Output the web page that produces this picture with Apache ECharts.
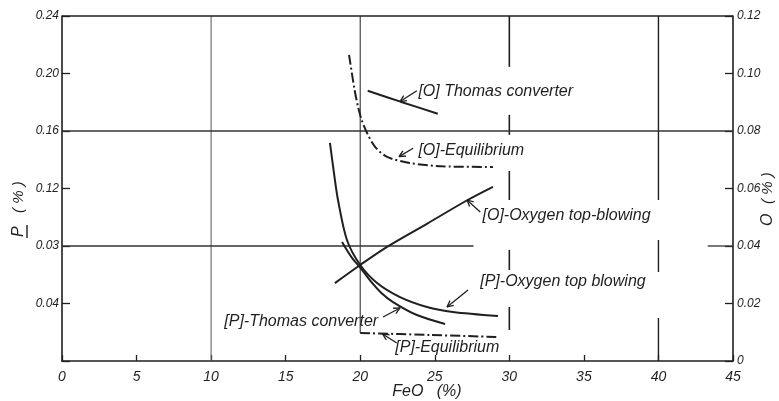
<!DOCTYPE html>
<html>
<head>
<meta charset="utf-8">
<script src="https://cdn.jsdelivr.net/npm/echarts@6/dist/echarts.min.js"></script>
<style>
  html, body { margin: 0; padding: 0; background: #fff; }
  #c { width: 779px; height: 401px; }
</style>
</head>
<body>
<div id="c"></div>
<script>
// Tick labels (left axis P %, right axis O %, bottom axis FeO %)
const feoLabels = ['0', '5', '10', '15', '20', '25', '30', '35', '40', '45'];
const pTickLabels = ['', '0.04', '0.03', '0.12', '0.16', '0.20', '0.24'];
const oTickLabels = ['0', '0.02', '0.04', '0.06', '0.08', '0.10', '0.12'];

// Oxygen content [O] (%) against FeO (%) — right axis
const oThomas = [[20.5, 0.0940], [22.7, 0.0902], [25.2, 0.0860]];
const oEquilibrium = [[19.25, 0.1065], [19.6, 0.0950], [19.85, 0.0885], [20.1, 0.0838], [20.46, 0.0793],
                      [21.0, 0.0745], [21.8, 0.0710], [23.3, 0.0689], [25.5, 0.0677], [28.9, 0.0675]];
const oTopBlowing = [[18.3, 0.0271], [20.0, 0.0334], [21.8, 0.0397], [24.5, 0.0478], [27.2, 0.0560], [28.9, 0.0606]];

// Phosphorus content [P] (%) against FeO (%) — left axis
const pTopBlowing = [[17.97, 0.1517], [18.25, 0.1300], [18.51, 0.1120], [19.11, 0.0842], [20.0, 0.0668],
                     [21.13, 0.0543], [22.67, 0.0445], [24.48, 0.0376], [26.22, 0.0341], [29.24, 0.0313]];
const pThomas = [[18.78, 0.0828], [19.45, 0.0717], [20.0, 0.0650], [20.7, 0.0555], [21.4, 0.0475],
                 [22.2, 0.0410], [23.8, 0.0320], [25.69, 0.0258]];
const pEquilibrium = [[20.0, 0.0195], [24.7, 0.0181], [29.2, 0.0167]];

const ink = '#1f1f1f';
const font = 'Liberation Sans';
const dashDot = [10, 3, 2, 3];

const chart = echarts.init(document.getElementById('c'), null, { renderer: 'canvas' });

function curve(name, data, axis, dashed) {
  return {
    name, type: 'line', data, yAxisIndex: axis,
    smooth: 0.3, showSymbol: false, symbol: 'none',
    lineStyle: { color: ink, width: 2, type: dashed ? dashDot : 'solid' },
    z: 5
  };
}

const tickLabelStyle = { color: ink, fontStyle: 'italic', fontFamily: font, fontSize: 12 };

chart.setOption({
  animation: false,
  backgroundColor: '#fff',
  grid: { left: 62, right: 46, top: 16, bottom: 40 },
  xAxis: {
    type: 'value', min: 0, max: 45, interval: 5,
    axisLine: { show: true, lineStyle: { color: ink, width: 1.6 } },
    axisTick: { inside: true, length: 6, lineStyle: { color: ink, width: 1.3 } },
    axisLabel: Object.assign({}, tickLabelStyle, {
      fontSize: 14, margin: 9,
      formatter: v => feoLabels[Math.round(v / 5)]
    }),
    splitLine: { show: false }
  },
  yAxis: [
    {
      type: 'value', min: 0, max: 0.24, interval: 0.04, position: 'left',
      axisLine: { show: true, onZero: false, lineStyle: { color: ink, width: 1.6 } },
      axisTick: { inside: true, length: 8, lineStyle: { color: ink, width: 1.3 } },
      axisLabel: Object.assign({}, tickLabelStyle, {
        margin: 3, formatter: v => pTickLabels[Math.round(v / 0.04)]
      }),
      splitLine: { show: false }
    },
    {
      type: 'value', min: 0, max: 0.12, interval: 0.02, position: 'right',
      axisLine: { show: true, onZero: false, lineStyle: { color: ink, width: 1.6 } },
      axisTick: { inside: true, length: 8, lineStyle: { color: ink, width: 1.3 } },
      axisLabel: Object.assign({}, tickLabelStyle, {
        margin: 4, formatter: v => oTickLabels[Math.round(v / 0.02)]
      }),
      splitLine: { show: false }
    }
  ],
  series: [
    curve('[O] Thomas converter', oThomas, 1, false),
    curve('[O]-Equilibrium', oEquilibrium, 1, true),
    curve('[O]-Oxygen top-blowing', oTopBlowing, 1, false),
    curve('[P]-Oxygen top blowing', pTopBlowing, 0, false),
    curve('[P]-Thomas converter', pThomas, 0, false),
    curve('[P]-Equilibrium', pEquilibrium, 0, true)
  ]
});

// ---- frame, selective grid lines, annotations (placed in left-axis data units) ----
const px = (x, y) => chart.convertToPixel({ xAxisIndex: 0, yAxisIndex: 0 }, [x, y]);

const vRuns = [
  { x: 10, runs: [[0, 0.24]], color: '#666', width: 1.1 },
  { x: 20, runs: [[0.0195, 0.24]], color: '#444', width: 1.2 },
  { x: 30, runs: [[0.2046, 0.24], [0.1573, 0.1712], [0.112, 0.1322], [0.0633, 0.0773], [0.0216, 0.0376]], color: ink, width: 1.6 },
  { x: 40, runs: [[0.112, 0.24], [0.0619, 0.0842], [0, 0.0299]], color: ink, width: 1.4 }
];
const hRuns = [
  { y: 0.24, runs: [[0, 45]], color: ink, width: 1.6 },
  { y: 0.16, runs: [[0, 45]], color: '#333', width: 1.3 },
  { y: 0.08, runs: [[0, 27.6], [43.3, 45]], color: '#333', width: 1.3 }
];

const notes = [
  { text: '[O] Thomas converter', at: [23.9, 0.1875], align: 'left', from: [22.67, 0.1805], to: [23.8, 0.1880] },
  { text: '[O]-Equilibrium', at: [23.9, 0.1465], align: 'left', from: [22.6, 0.1422], to: [23.55, 0.1480] },
  { text: '[O]-Oxygen top-blowing', at: [28.2, 0.1010], align: 'left', from: [27.16, 0.1120], to: [28.05, 0.1037] },
  { text: '[P]-Oxygen top blowing', at: [28.05, 0.0550], align: 'left', from: [25.82, 0.0376], to: [27.23, 0.0494] },
  { text: '[P]-Thomas converter', at: [21.2, 0.0271], align: 'right', from: [22.67, 0.0369], to: [21.53, 0.0306] },
  { text: '[P]-Equilibrium', at: [22.35, 0.0097], align: 'left', from: [21.5, 0.0188], to: [22.45, 0.0125] }
];

const g = [];
function seg(a, b, color, width) {
  g.push({ type: 'line', shape: { x1: a[0], y1: a[1], x2: b[0], y2: b[1] },
           style: { stroke: color, lineWidth: width }, z: 3, silent: true });
}
vRuns.forEach(v => v.runs.forEach(r => seg(px(v.x, r[0]), px(v.x, r[1]), v.color, v.width)));
hRuns.forEach(h => h.runs.forEach(r => seg(px(r[0], h.y), px(r[1], h.y), h.color, h.width)));

notes.forEach(n => {
  const a = px(n.from[0], n.from[1]);
  const b = px(n.to[0], n.to[1]);
  seg(a, b, ink, 1.3);
  // open arrowhead at the curve end
  const ang = Math.atan2(b[1] - a[1], b[0] - a[0]);
  [0.45, -0.45].forEach(d => {
    const e = [a[0] + 7 * Math.cos(ang + d), a[1] + 7 * Math.sin(ang + d)];
    seg(a, e, ink, 1.3);
  });
  const p = px(n.at[0], n.at[1]);
  g.push({ type: 'text', x: p[0], y: p[1], z: 6, silent: true,
           style: { text: n.text, fill: ink, font: 'italic 16px "' + font + '"',
                    textAlign: n.align, textVerticalAlign: 'middle' } });
});

// axis titles
g.push({ type: 'text', x: 427, y: 392, z: 6, silent: true,
         style: { text: 'FeO   (%)', fill: ink, font: 'italic 16px "' + font + '"',
                  textAlign: 'center', textVerticalAlign: 'middle' } });
g.push({ type: 'group', x: 19, y: 205, rotation: Math.PI / 2, silent: true, children: [
  { type: 'text', x: -32, y: 0, style: { text: 'P', fill: ink, font: 'italic 16px "' + font + '"', textAlign: 'left', textVerticalAlign: 'middle' } },
  { type: 'line', shape: { x1: -33, y1: 8, x2: -20, y2: 8 }, style: { stroke: ink, lineWidth: 1.4 } },
  { type: 'text', x: -8, y: 0, style: { text: '( % )', fill: ink, font: 'italic 15px "' + font + '"', textAlign: 'left', textVerticalAlign: 'middle' } }
]});
g.push({ type: 'group', x: 768, y: 200, rotation: Math.PI / 2, silent: true, children: [
  { type: 'text', x: -26, y: 0, style: { text: 'O', fill: ink, font: 'italic 16px "' + font + '"', textAlign: 'left', textVerticalAlign: 'middle' } },
  { type: 'text', x: -4, y: 0, style: { text: '( % )', fill: ink, font: 'italic 15px "' + font + '"', textAlign: 'left', textVerticalAlign: 'middle' } }
]});

chart.setOption({ graphic: g });
</script>
</body>
</html>
